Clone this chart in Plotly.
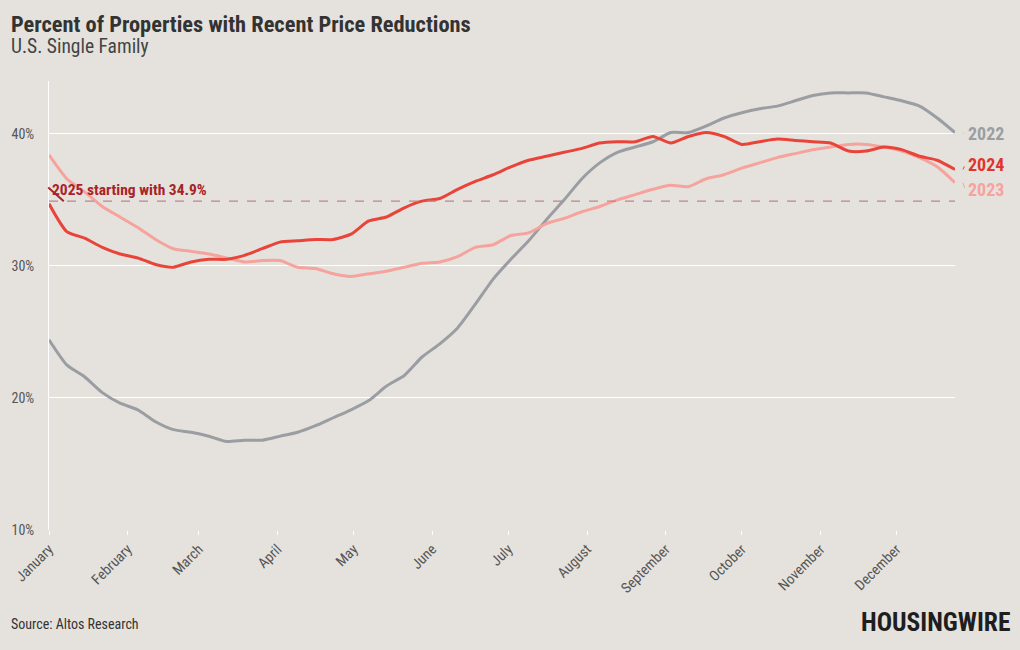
import datetime as dt
import plotly.graph_objects as go

# ---- data (weekly) ----
start = dt.date(2021, 1, 1)
weeks = [start + dt.timedelta(days=7 * i) for i in range(52)]

y2022 = [24.4, 22.5, 21.6, 20.4, 19.6, 19.1, 18.2, 17.6, 17.4, 17.1,
         16.7, 16.8, 16.8, 17.1, 17.4, 17.9, 18.5, 19.1, 19.8, 20.9,
         21.7, 23.1, 24.1, 25.3, 27.1, 29.0, 30.5, 31.9, 33.5, 35.0,
         36.6, 37.8, 38.6, 39.0, 39.4, 40.1, 40.1, 40.6, 41.2, 41.6,
         41.9, 42.1, 42.5, 42.9, 43.1, 43.1, 43.1, 42.8, 42.5, 42.1,
         41.2, 40.1]
y2023 = [38.4, 36.6, 35.6, 34.5, 33.7, 32.9, 32.0, 31.3, 31.1, 30.9,
         30.6, 30.3, 30.4, 30.4, 29.9, 29.8, 29.4, 29.2, 29.4, 29.6,
         29.9, 30.2, 30.3, 30.7, 31.4, 31.6, 32.3, 32.5, 33.2, 33.6,
         34.1, 34.5, 35.0, 35.4, 35.8, 36.1, 36.0, 36.6, 36.9, 37.4,
         37.8, 38.2, 38.5, 38.8, 39.0, 39.2, 39.2, 39.0, 38.7, 38.2,
         37.5, 36.3]
y2024 = [34.7, 32.6, 32.1, 31.4, 30.9, 30.6, 30.1, 29.9, 30.3, 30.5,
         30.5, 30.8, 31.3, 31.8, 31.9, 32.0, 32.0, 32.4, 33.4, 33.7,
         34.4, 34.9, 35.1, 35.8, 36.4, 36.9, 37.5, 38.0, 38.3, 38.6,
         38.9, 39.3, 39.4, 39.4, 39.8, 39.3, 39.8, 40.1, 39.8, 39.2,
         39.4, 39.6, 39.5, 39.4, 39.3, 38.7, 38.7, 39.0, 38.8, 38.3,
         38.0, 37.3]
start_2025 = 34.9
y_ticks = [10, 20, 30, 40]
y_tick_labels = ["10%", "20%", "30%", "40%"]

series = [
    ("2022", y2022, "#9a9ea2", "#9a9ea2", 40.0),
    ("2023", y2023, "#f6a39d", "#f6a39d", 35.8),
    ("2024", y2024, "#e8443a", "#e0352b", 37.65),
]

FONT = "Roboto Condensed, Liberation Sans Narrow, DejaVu Sans Condensed, Roboto, sans-serif"
BG = "#e5e2dd"
PX_PER_UNIT = 448.8 / 34.0

fig = go.Figure()
for name, ys, col, _, _ in series:
    fig.add_trace(go.Scatter(x=weeks, y=ys, mode="lines", name=name,
                             line=dict(color=col, width=3, shape="spline", smoothing=0.6),
                             hoverinfo="skip"))

fig.add_hline(y=start_2025, line=dict(color="#b9868a", width=1.2, dash="dash"))

ann = []
# 2025 annotation
ann.append(dict(x=weeks[1], y=start_2025, xref="x", yref="y", ax=-17, ay=-15,
                xshift=-3,
                showarrow=True, arrowhead=0, arrowwidth=2, arrowcolor="#a8232a",
                text=""))
ann.append(dict(x=weeks[0], y=start_2025, xref="x", yref="y", xanchor="left",
                yanchor="bottom", xshift=1, yshift=0, showarrow=False,
                text="<b>2025 starting with 34.9%</b>",
                font=dict(family=FONT, size=15.5, color="#a8232a")))

# end labels
last = weeks[-1]
for name, ys, col, tcol, ly in series:
    ann.append(dict(x=last, y=ly, xref="x", yref="y", xanchor="left", xshift=11,
                    showarrow=False, text=f"<b>{name}</b>",
                    font=dict(family=FONT, size=18, color=tcol)))
    d = (ly - ys[-1]) * PX_PER_UNIT
    ann.append(dict(x=last, y=ys[-1], xref="x", yref="y", xshift=8,
                    ax=2, ay=-d if abs(d) > 1 else 0.01,
                    showarrow=True, arrowhead=0, arrowwidth=1, arrowcolor=col, text=""))

fig.update_layout(annotations=ann)

fig.add_annotation(text="<b>Percent of Properties with Recent Price Reductions</b>",
                   xref="paper", yref="paper", x=-40 / 909, y=1 + 57 / 448.8,
                   xanchor="left", yanchor="middle", showarrow=False,
                   font=dict(family=FONT, size=22.4, color="#333333"))
fig.add_annotation(text="U.S. Single Family",
                   xref="paper", yref="paper", x=-40 / 909, y=1 + 34 / 448.8,
                   xanchor="left", yanchor="middle", showarrow=False,
                   font=dict(family=FONT, size=19.5, color="#444444"))
fig.add_annotation(text="Source: Altos Research",
                   xref="paper", yref="paper", x=-40 / 909, y=-94 / 448.8,
                   xanchor="left", yanchor="middle", showarrow=False,
                   font=dict(family=FONT, size=14, color="#333333"))
fig.add_annotation(text="<b>HOUSINGWIRE</b>",
                   xref="paper", yref="paper", x=1 + 57 / 909, y=-92 / 448.8,
                   xanchor="right", yanchor="middle", showarrow=False,
                   font=dict(family=FONT, size=25.5, color="#1e1e1e"))

fig.update_layout(
    width=1020, height=650,
    margin=dict(l=46, r=65, t=81, b=120),
    paper_bgcolor=BG, plot_bgcolor=BG,
    showlegend=False,
    font=dict(family=FONT, color="#555555"),
    xaxis=dict(type="date", range=[weeks[0], weeks[-1]],
               tickformat="%B", dtick="M1", tick0=weeks[0],
               tickangle=-45, showgrid=False, zeroline=False,
               ticks="outside", ticklen=4, tickcolor="#ffffff",
               showline=False,
               tickfont=dict(family=FONT, size=14.5, color="#555555")),
    yaxis=dict(range=[10, 44], tickvals=y_ticks, ticktext=y_tick_labels,
               showgrid=True, gridcolor="#ffffff", gridwidth=1,
               zeroline=False, showline=True, linecolor="#ffffff", linewidth=1,
               ticks="", ticklabelstandoff=11,
               tickfont=dict(family=FONT, size=14, color="#555555")),
)

fig.write_html("out.html", config={"displayModeBar": False},
               post_script="document.body.style.margin='0';")
